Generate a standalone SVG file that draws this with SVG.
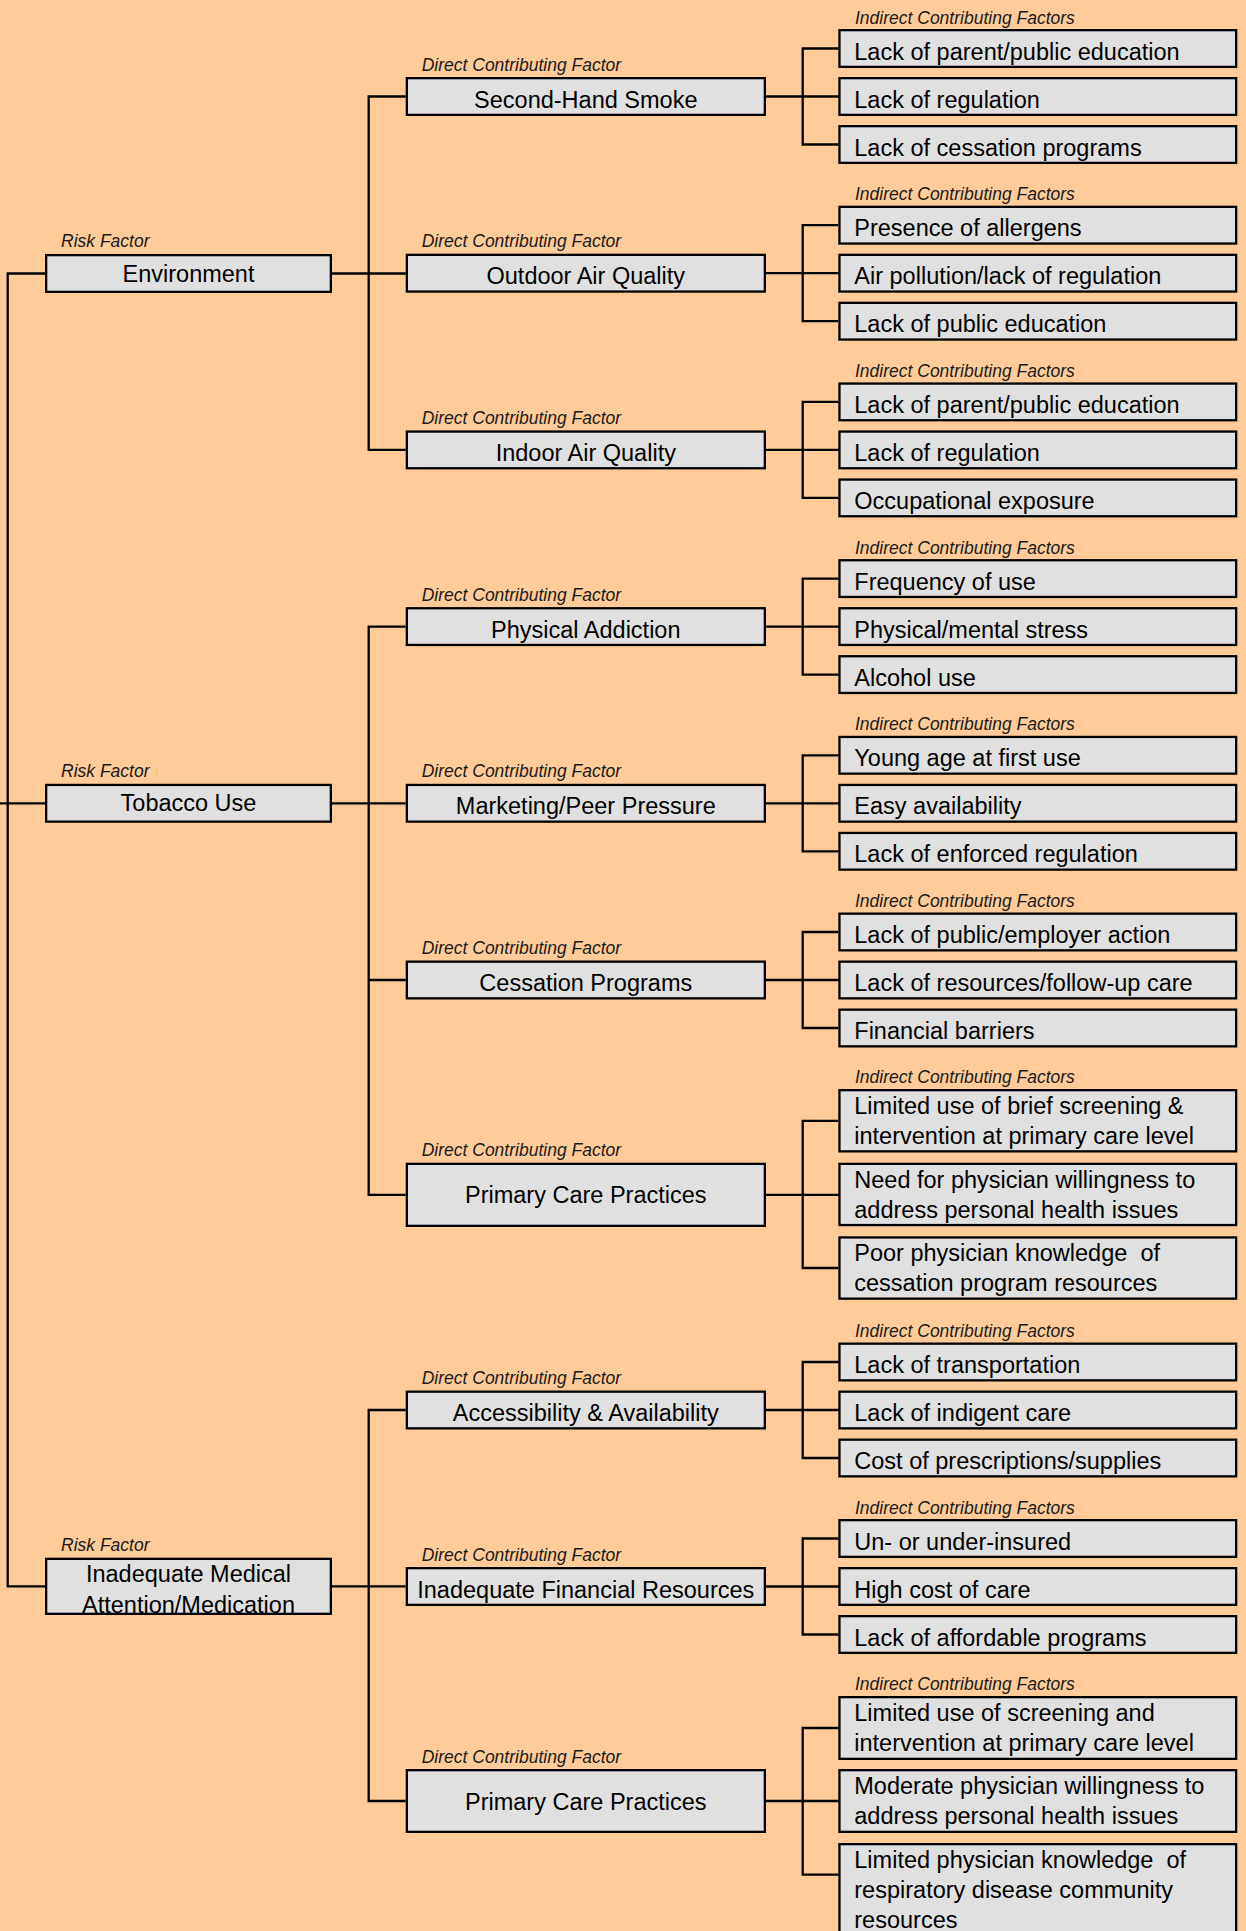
<svg xmlns="http://www.w3.org/2000/svg" width="1246" height="1931" viewBox="0 0 1246 1931">
<style>
.box{fill:#E0E0E0;stroke:#000;stroke-width:2.3}
.t{font-family:"Liberation Sans",Arial,sans-serif;font-size:23.5px;fill:#000}
.c{text-anchor:middle}
.lbl{font-family:"Liberation Sans",Arial,sans-serif;font-style:italic;font-size:17.5px;fill:#1a1a1a}
.conn path{stroke:#000;stroke-width:2.3;fill:none}
.pre{white-space:pre}
</style>
<defs>
<clipPath id="clipMed"><rect x="46" y="1557" width="285" height="56.8"/></clipPath>
</defs>
<rect x="0" y="0" width="1246" height="1931" fill="#FFCC99"/>

<g id="connectors" class="conn">
<path d="M45,273.5 H7.7 V1586.4 H45 M0,803.3 H45"/>
<path d="M332,273.5 H405.7 M405.7,96.5 H368.7 V449.9 H405.7"/>
<path d="M332,803.3 H405.7 M405.7,626.6 H368.7 V1194.9 H405.7 M368.7,980 H405.7"/>
<path d="M332,1586.4 H405.7 M405.7,1410 H368.7 V1801 H405.7"/>
<path d="M766,96.5 H839 M838.3,48.5 H802.7 V144.5 H838.3"/>
<path d="M766,273.2 H839 M838.3,225.2 H802.7 V321.2 H838.3"/>
<path d="M766,449.9 H839 M838.3,401.9 H802.7 V497.9 H838.3"/>
<path d="M766,626.6 H839 M838.3,578.6 H802.7 V674.6 H838.3"/>
<path d="M766,803.3 H839 M838.3,755.3 H802.7 V851.3 H838.3"/>
<path d="M766,980 H839 M838.3,932 H802.7 V1028 H838.3"/>
<path d="M766,1194.9 H839 M838.3,1120.8 H802.7 V1268 H838.3"/>
<path d="M766,1410 H839 M838.3,1362 H802.7 V1458 H838.3"/>
<path d="M766,1586.5 H839 M838.3,1538.5 H802.7 V1634.5 H838.3"/>
<path d="M766,1801 H839 M838.3,1728 H802.7 V1874.7 H838.3"/>
</g>

<!-- Risk factors -->
<g id="risk-environment">
<text class="lbl" x="61" y="247">Risk Factor</text>
<rect class="box" x="46.15" y="255.15" width="284.7" height="36.7"/>
<text class="t c" x="188.5" y="281.5">Environment</text>
</g>
<g id="risk-tobacco">
<text class="lbl" x="61" y="776.8">Risk Factor</text>
<rect class="box" x="46.15" y="784.95" width="284.7" height="36.7"/>
<text class="t c" x="188.5" y="811.3">Tobacco Use</text>
</g>
<g id="risk-medical">
<text class="lbl" x="61" y="1550.7">Risk Factor</text>
<rect class="box" x="46.15" y="1558.85" width="284.7" height="55"/>
<g clip-path="url(#clipMed)">
<text class="t c" x="188.5" y="1581.7">Inadequate Medical</text>
<text class="t c" x="188.5" y="1613.4">Attention/Medication</text>
</g>
</g>

<!-- Direct contributing factors -->
<g id="direct-shs">
<text class="lbl" x="421.7" y="70.5">Direct Contributing Factor</text>
<rect class="box" x="406.85" y="78.15" width="358" height="36.7"/>
<text class="t c" x="585.8" y="107.5">Second-Hand Smoke</text>
</g>
<g id="direct-outdoor">
<text class="lbl" x="421.7" y="247.2">Direct Contributing Factor</text>
<rect class="box" x="406.85" y="254.85" width="358" height="36.7"/>
<text class="t c" x="585.8" y="284.2">Outdoor Air Quality</text>
</g>
<g id="direct-indoor">
<text class="lbl" x="421.7" y="423.9">Direct Contributing Factor</text>
<rect class="box" x="406.85" y="431.55" width="358" height="36.7"/>
<text class="t c" x="585.8" y="460.9">Indoor Air Quality</text>
</g>
<g id="direct-addiction">
<text class="lbl" x="421.7" y="600.6">Direct Contributing Factor</text>
<rect class="box" x="406.85" y="608.25" width="358" height="36.7"/>
<text class="t c" x="585.8" y="637.6">Physical Addiction</text>
</g>
<g id="direct-marketing">
<text class="lbl" x="421.7" y="777.3">Direct Contributing Factor</text>
<rect class="box" x="406.85" y="784.95" width="358" height="36.7"/>
<text class="t c" x="585.8" y="814.3">Marketing/Peer Pressure</text>
</g>
<g id="direct-cessation">
<text class="lbl" x="421.7" y="954">Direct Contributing Factor</text>
<rect class="box" x="406.85" y="961.65" width="358" height="36.7"/>
<text class="t c" x="585.8" y="991">Cessation Programs</text>
</g>
<g id="direct-primary1">
<text class="lbl" x="421.7" y="1156.2">Direct Contributing Factor</text>
<rect class="box" x="406.85" y="1163.85" width="358" height="62"/>
<text class="t c" x="585.8" y="1203.2">Primary Care Practices</text>
</g>
<g id="direct-access">
<text class="lbl" x="421.7" y="1384">Direct Contributing Factor</text>
<rect class="box" x="406.85" y="1391.65" width="358" height="36.7"/>
<text class="t c" x="585.8" y="1421">Accessibility &amp; Availability</text>
</g>
<g id="direct-financial">
<text class="lbl" x="421.7" y="1560.5">Direct Contributing Factor</text>
<rect class="box" x="406.85" y="1568.15" width="358" height="36.7"/>
<text class="t c" x="585.8" y="1597.5">Inadequate Financial Resources</text>
</g>
<g id="direct-primary2">
<text class="lbl" x="421.7" y="1762.5">Direct Contributing Factor</text>
<rect class="box" x="406.85" y="1770.15" width="358" height="61.7"/>
<text class="t c" x="585.8" y="1809.5">Primary Care Practices</text>
</g>

<!-- Indirect contributing factors -->
<g id="indirect-shs">
<text class="lbl" x="855" y="23.5">Indirect Contributing Factors</text>
<rect class="box" x="839.45" y="30.15" width="396.7" height="36.7"/>
<text class="t" x="854.3" y="59.5">Lack of parent/public education</text>
<rect class="box" x="839.45" y="78.15" width="396.7" height="36.7"/>
<text class="t" x="854.3" y="107.5">Lack of regulation</text>
<rect class="box" x="839.45" y="126.15" width="396.7" height="36.7"/>
<text class="t" x="854.3" y="155.5">Lack of cessation programs</text>
</g>
<g id="indirect-outdoor">
<text class="lbl" x="855" y="200.2">Indirect Contributing Factors</text>
<rect class="box" x="839.45" y="206.85" width="396.7" height="36.7"/>
<text class="t" x="854.3" y="236.2">Presence of allergens</text>
<rect class="box" x="839.45" y="254.85" width="396.7" height="36.7"/>
<text class="t" x="854.3" y="284.2">Air pollution/lack of regulation</text>
<rect class="box" x="839.45" y="302.85" width="396.7" height="36.7"/>
<text class="t" x="854.3" y="332.2">Lack of public education</text>
</g>
<g id="indirect-indoor">
<text class="lbl" x="855" y="376.9">Indirect Contributing Factors</text>
<rect class="box" x="839.45" y="383.55" width="396.7" height="36.7"/>
<text class="t" x="854.3" y="412.9">Lack of parent/public education</text>
<rect class="box" x="839.45" y="431.55" width="396.7" height="36.7"/>
<text class="t" x="854.3" y="460.9">Lack of regulation</text>
<rect class="box" x="839.45" y="479.55" width="396.7" height="36.7"/>
<text class="t" x="854.3" y="508.9">Occupational exposure</text>
</g>
<g id="indirect-addiction">
<text class="lbl" x="855" y="553.6">Indirect Contributing Factors</text>
<rect class="box" x="839.45" y="560.25" width="396.7" height="36.7"/>
<text class="t" x="854.3" y="589.6">Frequency of use</text>
<rect class="box" x="839.45" y="608.25" width="396.7" height="36.7"/>
<text class="t" x="854.3" y="637.6">Physical/mental stress</text>
<rect class="box" x="839.45" y="656.25" width="396.7" height="36.7"/>
<text class="t" x="854.3" y="685.6">Alcohol use</text>
</g>
<g id="indirect-marketing">
<text class="lbl" x="855" y="730.3">Indirect Contributing Factors</text>
<rect class="box" x="839.45" y="736.95" width="396.7" height="36.7"/>
<text class="t" x="854.3" y="766.3">Young age at first use</text>
<rect class="box" x="839.45" y="784.95" width="396.7" height="36.7"/>
<text class="t" x="854.3" y="814.3">Easy availability</text>
<rect class="box" x="839.45" y="832.95" width="396.7" height="36.7"/>
<text class="t" x="854.3" y="862.3">Lack of enforced regulation</text>
</g>
<g id="indirect-cessation">
<text class="lbl" x="855" y="907">Indirect Contributing Factors</text>
<rect class="box" x="839.45" y="913.65" width="396.7" height="36.7"/>
<text class="t" x="854.3" y="943">Lack of public/employer action</text>
<rect class="box" x="839.45" y="961.65" width="396.7" height="36.7"/>
<text class="t" x="854.3" y="991">Lack of resources/follow-up care</text>
<rect class="box" x="839.45" y="1009.65" width="396.7" height="36.7"/>
<text class="t" x="854.3" y="1039">Financial barriers</text>
</g>
<g id="indirect-primary1">
<text class="lbl" x="855" y="1083">Indirect Contributing Factors</text>
<rect class="box" x="839.45" y="1090.15" width="396.7" height="61.2"/>
<text class="t" x="854.3" y="1114">Limited use of brief screening &amp;</text>
<text class="t" x="854.3" y="1144">intervention at primary care level</text>
<rect class="box" x="839.45" y="1163.85" width="396.7" height="61.2"/>
<text class="t" x="854.3" y="1187.7">Need for physician willingness to</text>
<text class="t" x="854.3" y="1217.7">address personal health issues</text>
<rect class="box" x="839.45" y="1237.45" width="396.7" height="61.2"/>
<text class="t pre" x="854.3" y="1261.3" xml:space="preserve">Poor physician knowledge  of</text>
<text class="t" x="854.3" y="1291.3">cessation program resources</text>
</g>
<g id="indirect-access">
<text class="lbl" x="855" y="1336.5">Indirect Contributing Factors</text>
<rect class="box" x="839.45" y="1343.65" width="396.7" height="36.7"/>
<text class="t" x="854.3" y="1373">Lack of transportation</text>
<rect class="box" x="839.45" y="1391.65" width="396.7" height="36.7"/>
<text class="t" x="854.3" y="1421">Lack of indigent care</text>
<rect class="box" x="839.45" y="1439.65" width="396.7" height="36.7"/>
<text class="t" x="854.3" y="1469">Cost of prescriptions/supplies</text>
</g>
<g id="indirect-financial">
<text class="lbl" x="855" y="1513.5">Indirect Contributing Factors</text>
<rect class="box" x="839.45" y="1520.15" width="396.7" height="36.7"/>
<text class="t" x="854.3" y="1549.5">Un- or under-insured</text>
<rect class="box" x="839.45" y="1568.15" width="396.7" height="36.7"/>
<text class="t" x="854.3" y="1597.5">High cost of care</text>
<rect class="box" x="839.45" y="1616.15" width="396.7" height="36.7"/>
<text class="t" x="854.3" y="1645.5">Lack of affordable programs</text>
</g>
<g id="indirect-primary2">
<text class="lbl" x="855" y="1690">Indirect Contributing Factors</text>
<rect class="box" x="839.45" y="1697.15" width="396.7" height="61.7"/>
<text class="t" x="854.3" y="1721">Limited use of screening and</text>
<text class="t" x="854.3" y="1751">intervention at primary care level</text>
<rect class="box" x="839.45" y="1770.15" width="396.7" height="61.7"/>
<text class="t" x="854.3" y="1794">Moderate physician willingness to</text>
<text class="t" x="854.3" y="1824">address personal health issues</text>
<rect class="box" x="839.45" y="1844.15" width="396.7" height="100"/>
<text class="t pre" x="854.3" y="1868" xml:space="preserve">Limited physician knowledge  of</text>
<text class="t" x="854.3" y="1898">respiratory disease community</text>
<text class="t" x="854.3" y="1928">resources</text>
</g>
</svg>
